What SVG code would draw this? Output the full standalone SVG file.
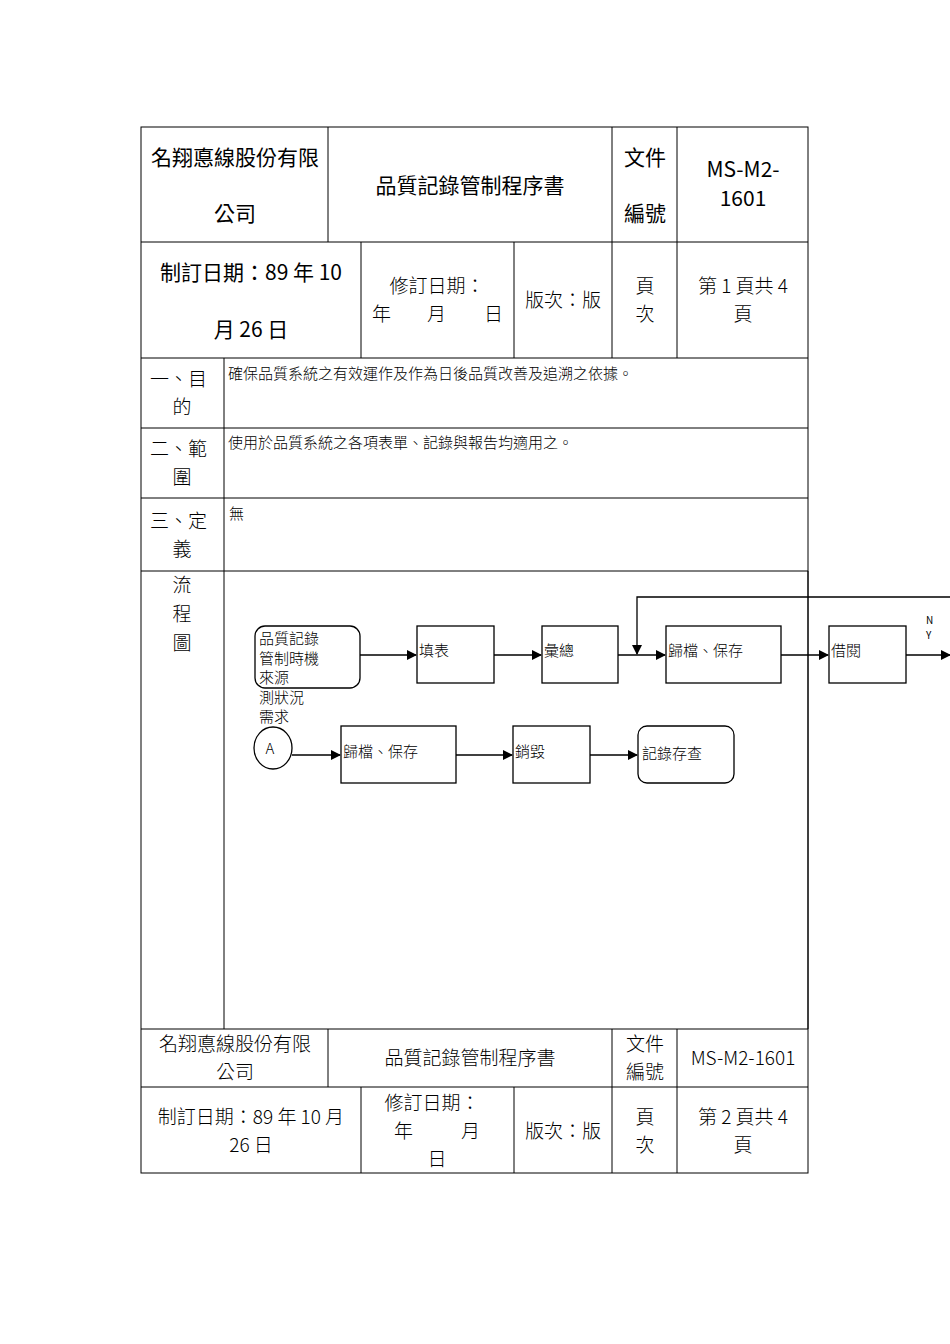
<svg xmlns="http://www.w3.org/2000/svg" width="950" height="1344" viewBox="0 0 950 1344">
<style>
.g{stroke:#000;stroke-width:1;fill:none}
.b{stroke:#000;stroke-width:1.3;fill:#fff}
.c{stroke:#000;stroke-width:1.3;fill:none}
text{font-family:"Noto Sans CJK TC","Liberation Serif",sans-serif;fill:#000}
.h{font-size:21px}
.t{font-size:19px;font-weight:300}
.s{font-size:15px;font-weight:300}
.f{font-size:15px;font-weight:300}
.m{text-anchor:middle}
</style>
<defs><marker id="a" markerWidth="10" markerHeight="10" refX="9" refY="5" orient="auto" markerUnits="userSpaceOnUse"><path d="M0,0L10,5L0,10z" fill="#000"/></marker></defs>
<rect width="950" height="1344" fill="#fff"/>
<g id="table" class="g">
<rect x="141" y="127" width="667" height="1046"/>
<line x1="141" y1="242" x2="808" y2="242"/><line x1="141" y1="358" x2="808" y2="358"/>
<line x1="141" y1="428" x2="808" y2="428"/><line x1="141" y1="498" x2="808" y2="498"/>
<line x1="141" y1="571" x2="808" y2="571"/><line x1="141" y1="1029" x2="808" y2="1029"/>
<line x1="141" y1="1087" x2="808" y2="1087"/>
<line x1="328" y1="127" x2="328" y2="242"/><line x1="612" y1="127" x2="612" y2="358"/><line x1="677" y1="127" x2="677" y2="358"/>
<line x1="361" y1="242" x2="361" y2="358"/><line x1="514" y1="242" x2="514" y2="358"/>
<line x1="224" y1="358" x2="224" y2="1029"/>
<line x1="328" y1="1029" x2="328" y2="1087"/><line x1="612" y1="1029" x2="612" y2="1173"/><line x1="677" y1="1029" x2="677" y2="1173"/>
<line x1="361" y1="1087" x2="361" y2="1173"/><line x1="514" y1="1087" x2="514" y2="1173"/>
</g>
<g id="header">
<text class="h m" x="235" y="165">名翔悳線股份有限</text>
<text class="h m" x="235" y="221">公司</text>
<text class="h m" x="470" y="193">品質記錄管制程序書</text>
<text class="h m" x="645" y="165">文件</text>
<text class="h m" x="645" y="221">編號</text>
<text class="h m" x="743" y="177">MS-M2-</text>
<text class="h m" x="743" y="206">1601</text>
<text class="h m" x="251" y="280">制訂日期：89 年 10</text>
<text class="h m" x="251" y="337">月 26 日</text>
<text class="t m" x="437" y="293">修訂日期：</text>
<text class="t" x="372" y="321">年</text><text class="t" x="427" y="321">月</text><text class="t" x="484" y="321">日</text>
<text class="t m" x="563" y="307">版次：版</text>
<text class="t m" x="645" y="293">頁</text><text class="t m" x="645" y="321">次</text>
<text class="t m" x="743" y="293">第 1 頁共 4</text><text class="t m" x="743" y="321">頁</text>
</g>
<g id="sections">
<text class="t" x="150" y="386">一、目</text><text class="t m" x="182" y="414">的</text>
<text class="s" x="228" y="379">確保品質系統之有效運作及作為日後品質改善及追溯之依據。</text>
<text class="t" x="150" y="456">二、範</text><text class="t m" x="182" y="484">圍</text>
<text class="s" x="228" y="448">使用於品質系統之各項表單、記錄與報告均適用之。</text>
<text class="t" x="150" y="528">三、定</text><text class="t m" x="182" y="556">義</text>
<text class="s" x="229" y="519">無</text>
<text class="t m" x="182" y="592">流</text><text class="t m" x="182" y="621">程</text><text class="t m" x="182" y="650">圖</text>
</g>
<g id="connectors" class="c">
<line x1="360" y1="655" x2="416" y2="655" marker-end="url(#a)"/>
<line x1="494" y1="655" x2="541" y2="655" marker-end="url(#a)"/>
<line x1="618" y1="655" x2="665" y2="655" marker-end="url(#a)"/>
<line x1="781" y1="655" x2="828" y2="655" marker-end="url(#a)"/>
<line x1="906" y1="655" x2="950" y2="655" marker-end="url(#a)"/>
<polyline points="950,597 637,597 637,654" marker-end="url(#a)"/>
<line x1="292" y1="755" x2="340" y2="755" marker-end="url(#a)"/>
<line x1="456" y1="755" x2="512" y2="755" marker-end="url(#a)"/>
<line x1="590" y1="755" x2="637" y2="755" marker-end="url(#a)"/>
</g>
<g id="n1"><rect class="b" x="255" y="626" width="105" height="62" rx="10"/>
<text class="f" x="259" y="644">品質記錄</text><text class="f" x="259" y="664">管制時機</text><text class="f" x="259" y="683">來源</text></g>
<g id="n1b"><text class="f" x="259" y="703">測狀況</text><text class="f" x="259" y="722">需求</text></g>
<g id="n2"><rect class="b" x="417" y="626" width="77" height="57"/><text class="f" x="419" y="656">填表</text></g>
<g id="n3"><rect class="b" x="542" y="626" width="76" height="57"/><text class="f" x="544" y="656">彙總</text></g>
<g id="n4"><rect class="b" x="666" y="626" width="115" height="57"/><text class="f" x="668" y="656">歸檔、保存</text></g>
<g id="n5"><rect class="b" x="829" y="626" width="77" height="57"/><text class="f" x="831" y="656">借閱</text></g>
<g id="ny"><text x="926" y="624" font-size="10">N</text><text x="926" y="639" font-size="10">Y</text></g>
<g id="nA"><ellipse class="b" cx="273" cy="748" rx="19" ry="21"/><text class="f m" x="270" y="754" font-size="13">A</text></g>
<g id="n6"><rect class="b" x="341" y="726" width="115" height="57"/><text class="f" x="343" y="757">歸檔、保存</text></g>
<g id="n7"><rect class="b" x="513" y="726" width="77" height="57"/><text class="f" x="515" y="757">銷毀</text></g>
<g id="n8"><rect class="b" x="638" y="726" width="96" height="57" rx="9"/><text class="f" x="642" y="759">記錄存查</text></g>
<line class="g" x1="808" y1="571" x2="808" y2="1029"/>
<g id="footer">
<text class="t m" x="235" y="1051">名翔悳線股份有限</text><text class="t m" x="235" y="1079">公司</text>
<text class="t m" x="470" y="1065">品質記錄管制程序書</text>
<text class="t m" x="645" y="1051">文件</text><text class="t m" x="645" y="1079">編號</text>
<text class="t m" x="743" y="1065">MS-M2-1601</text>
<text class="t m" x="251" y="1124">制訂日期：89 年 10 月</text><text class="t m" x="251" y="1152">26 日</text>
<text class="t m" x="432" y="1110">修訂日期：</text>
<text class="t" x="394" y="1138">年</text><text class="t" x="461" y="1138">月</text><text class="t m" x="437" y="1166">日</text>
<text class="t m" x="563" y="1138">版次：版</text>
<text class="t m" x="645" y="1124">頁</text><text class="t m" x="645" y="1152">次</text>
<text class="t m" x="743" y="1124">第 2 頁共 4</text><text class="t m" x="743" y="1152">頁</text>
</g>
</svg>
